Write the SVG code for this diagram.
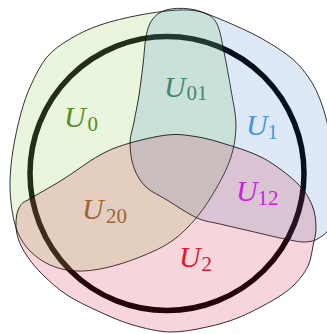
<svg xmlns="http://www.w3.org/2000/svg" width="327" height="334" viewBox="0 0 327 334">
<style>
.set{stroke:#000;stroke-width:0.8;stroke-linejoin:round}
.lbl{font-family:"Liberation Serif","DejaVu Serif",serif}
.U{font-style:italic;font-size:30px}
.sub{font-size:21px}
</style>
<rect width="327" height="334" fill="#fff"/>
<g id="circle">
<circle cx="167" cy="173.5" r="137" fill="none" stroke="#000" stroke-width="5.5"/>
</g>
<g id="U0set">
<path class="set" fill="rgb(155,214,100)" fill-opacity="0.22" d="M100,25 C111.7,21 126.7,17.5 140,15 C153.3,12.5 169.3,10.3 180,10 C190.7,9.7 197.8,10.7 204,13 C210.2,15.3 213.7,17.5 217,24 C220.3,30.5 221.7,41 224,52 C226.3,63 229,77.8 231,90 C233,102.2 236,113.8 236,125 C236,136.2 234.2,146.7 231,157 C227.8,167.3 222.7,177 217,187 C211.3,197 204.5,208 197,217 C189.5,226 181.5,234.3 172,241 C162.5,247.7 151.2,252.5 140,257 C128.8,261.5 115.8,265.7 105,268 C94.2,270.3 84.2,271.5 75,271 C65.8,270.5 57.5,268.3 50,265 C42.5,261.7 35.3,256.3 30,251 C24.7,245.7 21,239.8 18,233 C15,226.2 13.3,218.5 12,210 C10.7,201.5 9.8,192 10,182 C10.2,172 11.2,161.5 13,150 C14.8,138.5 18,123.8 21,113 C24,102.2 26.7,94.3 31,85 C35.3,75.7 40.5,64.7 47,57 C53.5,49.3 61.2,44.3 70,39 C78.8,33.7 88.3,29 100,25 Z"/>
</g>
<g id="U1set">
<path class="set" fill="rgb(27,107,193)" fill-opacity="0.15" d="M152,20 C155.3,15.5 159.7,11.8 166,10 C172.3,8.2 181.8,7.8 190,9 C198.2,10.2 203.8,12.5 215,17 C226.2,21.5 244.5,29.3 257,36 C269.5,42.7 281.3,50 290,57 C298.7,64 303.8,70.5 309,78 C314.2,85.5 317.5,92.5 321,102 C324.5,111.5 327.2,122 330,135 C332.8,148 337.8,165.2 338,180 C338.2,194.8 334.2,214.3 331,224 C327.8,233.7 323.3,235 319,238 C314.7,241 310.7,241.8 305,242 C299.3,242.2 294.2,240.8 285,239 C275.8,237.2 260.8,233.5 250,231 C239.2,228.5 228.8,226.2 220,224 C211.2,221.8 205.8,222 197,218 C188.2,214 175.5,205.2 167,200 C158.5,194.8 151.5,192.3 146,187 C140.5,181.7 136.7,175.3 134,168 C131.3,160.7 130,150.7 130,143 C130,135.3 132.5,130 134,122 C135.5,114 137.5,104.5 139,95 C140.5,85.5 141.8,74.7 143,65 C144.2,55.3 144.5,44.5 146,37 C147.5,29.5 148.7,24.5 152,20 Z"/>
</g>
<g id="U2set">
<path class="set" fill="rgb(205,28,61)" fill-opacity="0.18" d="M28,200 C35.2,195.3 50,187.5 62,180 C74,172.5 88.7,161.2 100,155 C111.3,148.8 118.8,146.3 130,143 C141.2,139.7 156.7,136.2 167,135 C177.3,133.8 182.8,134.7 192,136 C201.2,137.3 210.2,139.3 222,143 C233.8,146.7 250.5,151.3 263,158 C275.5,164.7 288.8,175.2 297,183 C305.2,190.8 308.8,197.7 312,205 C315.2,212.3 315.8,220.2 316,227 C316.2,233.8 314.3,239.5 313,246 C311.7,252.5 311,259.7 308,266 C305,272.3 300.5,278.5 295,284 C289.5,289.5 284.2,293.5 275,299 C265.8,304.5 251.3,312.3 240,317 C228.7,321.7 218.7,324.5 207,327 C195.3,329.5 182.3,332.3 170,332 C157.7,331.7 144.7,328.3 133,325 C121.3,321.7 111,317 100,312 C89,307 76.5,301.2 67,295 C57.5,288.8 49.7,281.5 43,275 C36.3,268.5 31.2,262.2 27,256 C22.8,249.8 19.8,243.7 18,238 C16.2,232.3 15.8,227 16,222 C16.2,217 17,211.7 19,208 C21,204.3 22,202.5 28,200 Z"/>
</g>
<g id="labels" class="lbl">
<g id="U0"><text fill="#558c23"><tspan class="U" x="64" y="127">U</tspan><tspan class="sub" x="87.5" y="131">0</tspan></text></g>
<g id="U01"><text fill="#418769"><tspan class="U" x="164" y="97">U</tspan><tspan class="sub" x="186.5" y="99.5">01</tspan></text></g>
<g id="U1"><text fill="#4b91e2"><tspan class="U" x="246" y="135">U</tspan><tspan class="sub" x="267.5" y="138.5">1</tspan></text></g>
<g id="U12"><text fill="#c823dc"><tspan class="U" x="236" y="201">U</tspan><tspan class="sub" x="257.5" y="205">12</tspan></text></g>
<g id="U20"><text fill="#9b6437"><tspan class="U" x="82" y="219">U</tspan><tspan class="sub" x="106" y="223">20</tspan></text></g>
<g id="U2"><text fill="#e1142d"><tspan class="U" x="179" y="267">U</tspan><tspan class="sub" x="201.5" y="271">2</tspan></text></g>
</g>
</svg>
